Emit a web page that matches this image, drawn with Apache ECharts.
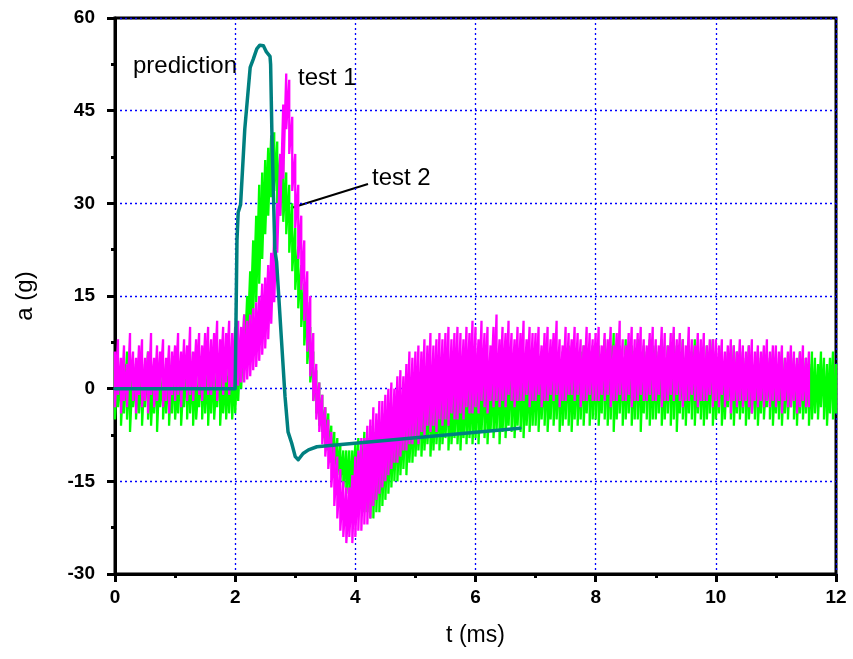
<!DOCTYPE html>
<html>
<head>
<meta charset="utf-8">
<script src="https://cdn.jsdelivr.net/npm/echarts@6/dist/echarts.min.js"></script>
<style>html,body{margin:0;padding:0;background:#fff;}#c{width:853px;height:659px;}</style>
</head>
<body>
<div id="c"></div>
<script>
// measured signals are given as per-sample max / min envelopes, one sample every 0.05 ms from 0 ms
const sampleStep = 0.05;

// test 1 (magenta): upper envelope
const test1Hi = [
  6,8,5,7,4,9,6,5,7,8,5,6,9,5,7,6,8,5,7,6,
  7,9,6,8,7,10,6,8,9,7,9,10,8,9,11,8,10,9,11,9,
  10,11,10,12,11,12,13,14,15,17,18,20,22,25,30,38,46,51,50,44,
  38,33,28,24,19,15,9,4,1,-1,-3,-5,-7,-9,-11,-13,-15,-16,-16,-14,
  -11,-10,-8,-8,-6,-5,-3,-4,-2,-2,-1,0,1,0,2,3,2,4,6,5,
  6,7,6,8,7,9,7,8,9,8,9,10,8,9,10,9,8,10,9,11,
  10,8,11,9,10,7,10,12,8,10,9,11,9,8,10,9,11,8,10,9,
  9,10,7,9,10,8,9,11,8,7,10,9,8,10,9,8,7,10,9,8,
  9,10,7,9,8,10,7,9,11,8,7,9,10,8,9,10,8,7,9,10,
  8,7,10,9,7,9,10,8,9,8,7,10,8,7,9,8,9,7,8,8,
  8,7,8,6,7,8,7,6,8,7,6,7,8,6,7,6,7,8,6,7,
  7,6,7,5,6,7,6,5,6,7,5,6
];
// test 1 (magenta): lower envelope
const test1Lo = [
  -3,-1,-4,-2,-3,0,-2,-4,-1,-3,-2,-4,-1,-3,-2,0,-3,-2,-4,-1,
  -2,-1,-3,0,-2,-1,-2,0,-1,-2,0,-1,-1,0,-2,0,-1,1,-1,0,
  0,0.5,1,1,1.5,2,3,3.5,4.5,5.5,6.5,8,10.5,14,22,28,34,42,38,32,
  26,21,16,11,6,2,-2,-5,-7,-9,-11,-13,-16,-19,-21,-23,-24,-25,-24,-25,
  -24,-23,-23,-22,-22,-21,-19,-18,-17,-16,-15,-14,-13,-12,-12,-11,-10,-10,-9,-9,
  -8,-9,-7,-8,-6,-7,-6,-7,-5,-6,-5,-6,-4,-5,-5,-4,-5,-3,-4,-4,
  -3,-4,-2,-3,-4,-2,-3,-2,-3,-2,-3,-1,-2,-3,-2,-2,-2,-1,-3,-2,
  -2,-1,-3,-2,-2,-1,-2,-1,-3,-2,-2,-1,-1,-2,-1,-3,-2,-2,-1,-2,
  -2,-2,-1,-2,-1,-3,-2,-2,-1,-2,-2,-1,-3,-2,-2,-1,-2,-2,-1,-2,
  -2,-1,-3,-2,-2,-1,-2,-1,-2,-3,-2,-2,-1,-2,-3,-2,-2,-2,-1,-3,
  -2,-3,-1,-3,-2,-4,-2,-3,-2,-3,-2,-3,-4,-2,-3,-2,-3,-2,-3,-2,
  -3,-2,-4,-2,-3,-3,-2,-4,-3,-2,-3,-3
];

// test 2 (green): upper envelope
const test2Hi = [
  3,5,2,4,6,3,4,2,5,3,4,6,2,4,3,5,2,4,3,5,
  4,2,5,3,4,6,3,5,2,4,5,3,6,4,3,5,4,2,5,4,
  5,7,9,12,15,19,24,28,33,35,37,39,41,41.5,40,38,37,35,33,30,
  26,23,20,17,14,10,6,3,1,-1,-3,-4,-6,-7,-8,-9,-10,-10,-10,-10,
  -9,-8,-9,-7,-8,-6,-7,-5,-6,-4,-5,-4,-3,-4,-2,-3,-3,-1,-2,-2,
  -1,-2,0,-1,-1,0,-1,1,0,1,0,2,1,0,2,1,2,1,3,2,
  2,3,2,4,3,2,4,3,5,3,4,3,5,4,3,5,4,5,3,5,
  4,5,6,4,5,3,6,5,4,6,5,7,4,6,5,6,7,5,6,7,
  6,7,5,8,6,7,9,6,7,5,8,6,7,6,8,5,7,6,8,7,
  7,6,8,5,7,6,9,7,6,8,5,7,6,8,7,6,5,7,6,8,
  6,5,7,4,6,5,7,6,4,6,5,7,5,4,6,5,6,4,5,6,
  5,4,6,5,4,6,5,4,6,5,5,4,6,5,4,6,5,4,5,6,
  4
];
// test 2 (green): lower envelope
const test2Lo = [
  -5,-3,-6,-4,-5,-7,-3,-5,-4,-6,-3,-5,-6,-4,-7,-3,-5,-4,-6,-4,
  -5,-4,-6,-3,-5,-4,-6,-5,-3,-5,-4,-6,-4,-5,-3,-6,-4,-5,-4,-5,
  -4,-2,0,3,6,9,12,14,17,21,25,28,31,32,30,28,27,25,22,19,
  16,13,10,7,4,1,-2,-4,-6,-7,-9,-10,-12,-13,-14,-15,-16,-17,-18,-18,
  -18,-19,-19,-20,-20,-21,-21,-20,-20,-19,-18,-17,-16,-15,-15,-14,-13,-14,-12,-12,
  -11,-10,-11,-10,-9,-11,-10,-9,-10,-9,-8,-10,-9,-8,-9,-10,-8,-9,-8,-9,
  -8,-9,-7,-8,-9,-7,-8,-7,-9,-7,-8,-6,-7,-8,-6,-7,-8,-6,-7,-6,
  -6,-7,-5,-6,-7,-5,-6,-5,-7,-6,-5,-6,-7,-5,-6,-5,-6,-4,-6,-5,
  -5,-6,-4,-5,-6,-5,-7,-5,-4,-6,-5,-4,-6,-5,-5,-7,-4,-5,-6,-5,
  -5,-4,-6,-5,-4,-6,-5,-7,-4,-5,-6,-4,-5,-6,-4,-5,-6,-5,-4,-6,
  -5,-4,-6,-5,-3,-5,-6,-4,-5,-4,-6,-5,-4,-5,-6,-4,-5,-3,-5,-6,
  -4,-5,-6,-4,-5,-3,-5,-6,-4,-5,-4,-6,-5,-4,-5,-3,-5,-6,-4,-5,
  -4
];

// prediction curve
const predT = [0, 2.0, 2.03, 2.05, 2.09, 2.16, 2.25, 2.3, 2.36, 2.41, 2.44, 2.47, 2.52, 2.58, 2.59, 2.61, 2.66, 2.69, 2.77, 2.83, 2.88, 2.94, 3.0, 3.05, 3.13, 3.22, 3.36, 3.58, 6.74];
const predA = [0, 0, 24, 28.5, 29.8, 42, 52, 53.3, 55, 55.6, 55.8, 55.5, 54.5, 53.8, 52.5, 42, 22.5, 20.5, 8, -1.3, -7, -8.8, -11, -11.5, -10.5, -9.9, -9.4, -9.2, -6.4];

const xTicks = { min: 0, max: 12, interval: 2 };
const yTicks = { min: -30, max: 60, interval: 15 };

// min/max rendering of a dense signal: a stroke from max to min at every sample time
function envelopePath(hi, lo) {
  const out = [];
  for (let i = 0; i < hi.length; i++) {
    const t = +(i * sampleStep).toFixed(2);
    out.push([t, hi[i]]);
    out.push([t, lo[i]]);
  }
  return out;
}
const predPairs = predT.map((t, i) => [t, predA[i]]);

const chart = echarts.init(document.getElementById('c'), null, { renderer: 'canvas' });
const FONT = '"Liberation Sans", Arial, sans-serif';

const axisCommon = {
  type: 'value',
  nameLocation: 'middle',
  nameTextStyle: { fontSize: 23, fontFamily: FONT, color: '#000' },
  axisLine: { show: true, onZero: false, lineStyle: { color: '#000', width: 3 } },
  axisTick: { show: true, length: 8, lineStyle: { color: '#000', width: 3 } },
  minorTick: { show: true, splitNumber: 2, length: 4, lineStyle: { color: '#000', width: 3 } },
  axisLabel: { fontSize: 19, fontWeight: 'bold', fontFamily: FONT, color: '#000' },
  splitLine: { show: true, lineStyle: { color: '#0000ff', width: 1.3, type: [2, 3] } }
};

chart.setOption({
  animation: false,
  backgroundColor: '#fff',
  grid: { left: 115, right: 17, top: 18, bottom: 85, show: true, borderColor: '#000', borderWidth: 3 },
  xAxis: Object.assign({}, axisCommon, {
    min: xTicks.min, max: xTicks.max, interval: xTicks.interval,
    name: 't (ms)', nameGap: 50,
    axisLabel: Object.assign({}, axisCommon.axisLabel, { margin: 14 })
  }),
  yAxis: Object.assign({}, axisCommon, {
    min: yTicks.min, max: yTicks.max, interval: yTicks.interval,
    name: 'a (g)', nameGap: 78,
    nameTextStyle: { fontSize: 24, fontFamily: FONT, color: '#000' },
    axisLabel: Object.assign({}, axisCommon.axisLabel, { margin: 20 })
  }),
  series: [
    {
      name: 'test 2', type: 'line', data: envelopePath(test2Hi, test2Lo), showSymbol: false, symbol: 'none',
      lineStyle: { color: '#00ff00', width: 2.3, join: 'bevel' }, z: 2, silent: true
    },
    {
      name: 'test 1', type: 'line', data: envelopePath(test1Hi, test1Lo), showSymbol: false, symbol: 'none',
      lineStyle: { color: '#ff00ff', width: 2.3, join: 'bevel' }, z: 3, silent: true
    },
    {
      name: 'prediction', type: 'line', data: predPairs, showSymbol: false, symbol: 'none',
      lineStyle: { color: '#008080', width: 3.5, join: 'round', cap: 'round' }, z: 4, silent: true
    }
  ],
  graphic: [
    { type: 'text', x: 133, y: 66, style: { text: 'prediction', fontSize: 24, fontFamily: FONT, fill: '#000', verticalAlign: 'middle', align: 'left' } },
    { type: 'text', x: 298, y: 78, style: { text: 'test 1', fontSize: 24, fontFamily: FONT, fill: '#000', verticalAlign: 'middle', align: 'left' } },
    { type: 'text', x: 372, y: 178, style: { text: 'test 2', fontSize: 24, fontFamily: FONT, fill: '#000', verticalAlign: 'middle', align: 'left' } },
    { type: 'line', shape: { x1: 368, y1: 184, x2: 291, y2: 208 }, style: { stroke: '#000', lineWidth: 2 } }
  ]
});
</script>
</body>
</html>
